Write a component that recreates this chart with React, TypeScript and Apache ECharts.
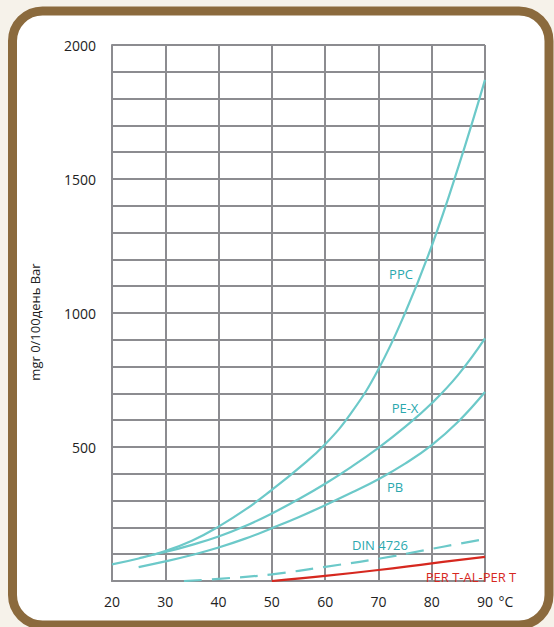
import React, { useEffect, useRef } from "react";
import * as echarts from "echarts";

const ppcTemps = [20, 25, 30, 35, 40, 45, 50, 55, 60, 65, 70, 75, 80, 85, 90];
const ppcValues = [62, 84, 112, 150, 203, 266, 340, 420, 510, 630, 790, 1000, 1250, 1545, 1870];

const pexTemps = [27, 30, 35, 40, 45, 50, 55, 60, 65, 70, 75, 80, 85, 90];
const pexValues = [95, 108, 135, 166, 205, 252, 305, 363, 427, 497, 575, 663, 770, 905];

const pbTemps = [25, 30, 35, 40, 45, 50, 55, 60, 65, 70, 75, 80, 85, 90];
const pbValues = [52, 73, 97, 125, 158, 197, 238, 283, 330, 380, 438, 507, 595, 705];

const dinTemps = [33.5, 40, 50, 60, 70, 80, 90];
const dinValues = [0, 8, 25, 53, 83, 120, 157];

const pertTemps = [50, 60, 70, 80, 90];
const pertValues = [0, 19, 41, 66, 90];

const xTicks = [20, 30, 40, 50, 60, 70, 80, 90];
const yLabelTicks = [500, 1000, 1500, 2000];

const zip = (xs: number[], ys: number[]) => xs.map((x, i) => [x, ys[i]]);

const FONT = "'Open Sans', 'Noto Sans', sans-serif";
const GRID_COLOR = "#8c8c90";
const CYAN = "#6cc9c9";
const CYAN_TEXT = "#2aa8ae";
const RED = "#d6281f";
const TEXT = "#222222";

export default function App() {
  const ref = useRef<HTMLDivElement>(null);
  useEffect(() => {
    if (!ref.current) return;
    const chart = echarts.init(ref.current, undefined, { renderer: "svg" });
    const lineBase = {
      type: "line",
      showSymbol: false,
      smooth: 0.45,
      z: 5,
    };
    const label = (text: string, x: number, y: number, fill: string) => ({
      type: "text",
      x,
      y,
      z: 10,
      style: { text, fontSize: 13, fontFamily: FONT, fill, align: "center", verticalAlign: "middle" },
    });
    chart.setOption({
      animation: false,
      backgroundColor: "#f6f2ea",
      grid: { left: 112, top: 45, right: 69, bottom: 46 },
      xAxis: {
        type: "value",
        min: 20,
        max: 90,
        interval: 10,
        axisLine: { show: true, lineStyle: { color: GRID_COLOR, width: 2 } },
        axisTick: { show: false },
        splitLine: { show: true, lineStyle: { color: GRID_COLOR, width: 2 } },
        axisLabel: {
          margin: 13,
          fontSize: 14,
          color: TEXT,
          fontFamily: FONT,
          formatter: (v: number) => (xTicks.includes(v) ? String(v) : ""),
        },
      },
      yAxis: {
        type: "value",
        min: 0,
        max: 2000,
        interval: 100,
        axisLine: { show: true, lineStyle: { color: GRID_COLOR, width: 2 } },
        axisTick: { show: false },
        splitLine: { show: true, lineStyle: { color: GRID_COLOR, width: 2 } },
        axisLabel: {
          margin: 16,
          fontSize: 14,
          color: TEXT,
          fontFamily: FONT,
          formatter: (v: number) => (yLabelTicks.includes(v) ? String(v) : ""),
        },
      },
      graphic: [
        {
          type: "rect",
          z: -10,
          silent: true,
          shape: { x: 12.5, y: 11, width: 536.5, height: 614, r: 30 },
          style: { fill: "#ffffff", stroke: "#8b6a3d", lineWidth: 9 },
        },
        {
          type: "text",
          x: 35,
          y: 322,
          rotation: Math.PI / 2,
          style: {
            text: "mgr 0/100день Bar",
            fontSize: 13,
            fontFamily: FONT,
            fill: TEXT,
            align: "center",
            verticalAlign: "middle",
          },
        },
        {
          type: "text",
          x: 506,
          y: 601,
          style: {
            text: "°C",
            fontSize: 14,
            fontFamily: FONT,
            fill: TEXT,
            align: "center",
            verticalAlign: "middle",
          },
        },
        label("PPC", 401, 274, CYAN_TEXT),
        label("PE-X", 405, 408, CYAN_TEXT),
        label("PB", 395, 487, CYAN_TEXT),
        label("DIN 4726", 380, 545, CYAN_TEXT),
        label("PER T-AL-PER T", 471, 577, RED),
      ],
      series: [
        { ...lineBase, name: "PPC", data: zip(ppcTemps, ppcValues), lineStyle: { color: CYAN, width: 2.2 } },
        { ...lineBase, name: "PE-X", data: zip(pexTemps, pexValues), lineStyle: { color: CYAN, width: 2.2 } },
        { ...lineBase, name: "PB", data: zip(pbTemps, pbValues), lineStyle: { color: CYAN, width: 2.2 } },
        {
          ...lineBase,
          name: "DIN 4726",
          data: zip(dinTemps, dinValues),
          lineStyle: { color: CYAN, width: 2.2, type: [18, 10] },
        },
        {
          ...lineBase,
          name: "PER T-AL-PER T",
          data: zip(pertTemps, pertValues),
          lineStyle: { color: RED, width: 2.2 },
        },
      ],
    });
    return () => chart.dispose();
  }, []);
  return (
    <div
      ref={ref}
      style={{ position: "absolute", left: 0, top: 0, width: 554, height: 627 }}
    />
  );
}
